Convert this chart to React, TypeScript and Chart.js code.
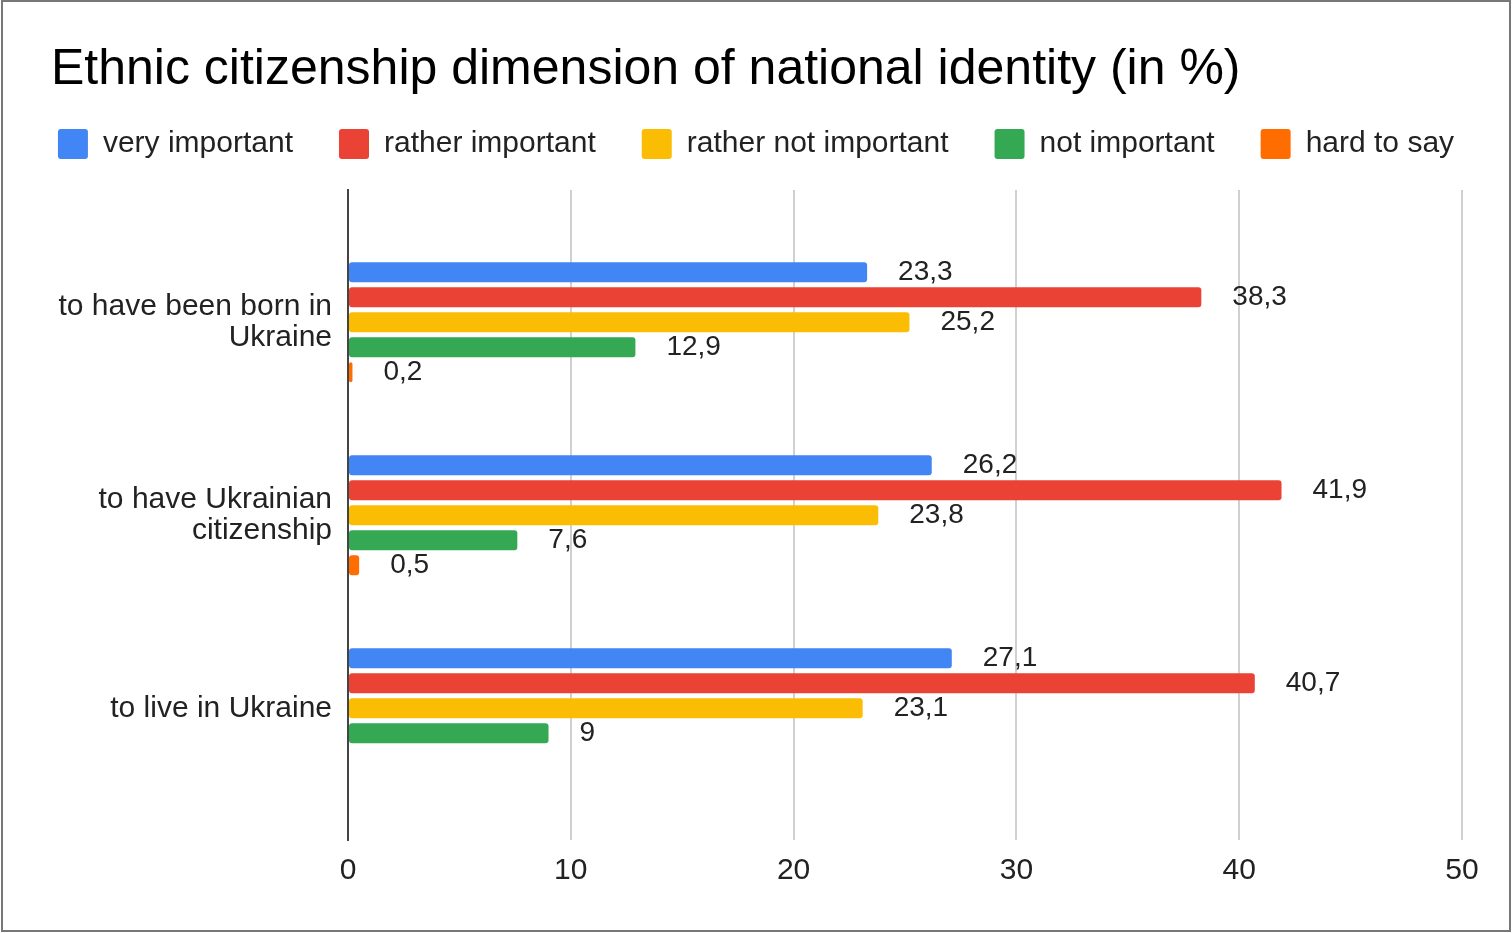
import React, { useEffect, useRef } from "react";
import { Chart, registerables } from "chart.js";

Chart.register(...registerables);

const TITLE = "Ethnic citizenship dimension of national identity (in %)";
const categories: (string | string[])[] = [
  ["to have been born in", "Ukraine"],
  ["to have Ukrainian", "citizenship"],
  "to live in Ukraine",
];
const seriesNames = ["very important", "rather important", "rather not important", "not important", "hard to say"];
const seriesColors = ["#4285F4", "#EA4335", "#FBBC04", "#34A853", "#FF6D01"];
const veryImportant = [23.3, 26.2, 27.1];
const ratherImportant = [38.3, 41.9, 40.7];
const ratherNotImportant = [25.2, 23.8, 23.1];
const notImportant = [12.9, 7.6, 9];
const hardToSay: (number | null)[] = [0.2, 0.5, null];
const xTicks = [0, 10, 20, 30, 40, 50];

const FONT = "Arial, 'Liberation Sans', sans-serif";

const valueLabels = {
  id: "valueLabels",
  afterDatasetsDraw(chart: any) {
    const ctx = chart.ctx;
    ctx.save();
    ctx.font = `28px ${FONT}`;
    ctx.fillStyle = "#222";
    ctx.textAlign = "left";
    ctx.textBaseline = "middle";
    chart.data.datasets.forEach((ds: any, i: number) => {
      const meta = chart.getDatasetMeta(i);
      if (meta.hidden) return;
      meta.data.forEach((el: any, j: number) => {
        const v = ds.data[j]?.x;
        if (v === null || v === undefined) return;
        ctx.fillText(String(v).replace(".", ","), el.x + 31, el.y);
      });
    });
    ctx.restore();
  },
};

// indent the title like the reference while the legend keeps the full width
const titleInset = {
  id: "titleInset",
  afterLayout(chart: any) {
    const t = chart.titleBlock;
    if (t) t.left = 51;
  },
};

export default function App() {
  const ref = useRef<HTMLCanvasElement | null>(null);
  useEffect(() => {
    document.body.style.margin = "0";
    const series = [veryImportant, ratherImportant, ratherNotImportant, notImportant, hardToSay];
    const chart = new Chart(ref.current!, {
      type: "bar",
      data: {
        datasets: series.map((vals, i) => ({
          label: seriesNames[i],
          data: vals.map((v, k) => ({ x: v, y: k })) as any,
          backgroundColor: seriesColors[i],
          borderWidth: 0,
          borderRadius: 3,
          borderSkipped: false,
          categoryPercentage: 125 / 193,
          barPercentage: 0.8,
          yAxisID: "y",
          xAxisID: "x",
        })),
      },
      options: {
        indexAxis: "y",
        animation: false,
        responsive: true,
        maintainAspectRatio: false,
        layout: { padding: { left: 0, right: 0, top: 0, bottom: 31 } },
        plugins: {
          title: {
            display: true,
            text: TITLE,
            align: "start",
            color: "#000",
            font: { family: FONT, size: 50, weight: "normal", lineHeight: 0.52 },
            padding: { top: 57, bottom: 0 },
          },
          legend: {
            display: true,
            position: "top",
            align: "center",
            labels: {
              boxWidth: 30,
              boxHeight: 30,
              padding: 46,
              color: "#222",
              useBorderRadius: true,
              borderRadius: 3,
              font: { family: FONT, size: 30 },
            },
          },
          tooltip: { enabled: false },
        },
        scales: {
          x: {
            type: "linear",
            position: "bottom",
            min: 0,
            max: 50,
            offset: false,
            afterBuildTicks: (axis: any) => {
              axis.ticks = xTicks.map((v) => ({ value: v }));
            },
            grid: {
              color: (c: any) => (c.tick && c.tick.value === 0 ? "rgba(0,0,0,0)" : "#d0d0d0"),
              lineWidth: 2,
              drawTicks: false,
              offset: false,
            },
            border: { display: false },
            ticks: { color: "#222", padding: 13, font: { family: FONT, size: 30 } },
          },
          xTop: {
            type: "linear",
            axis: "x",
            position: "top",
            display: true,
            grid: { display: false, drawTicks: false },
            border: { display: false },
            ticks: { display: false },
            afterFit: (s: any) => {
              s.height = 21;
            },
          },
          y: {
            type: "linear",
            reverse: true,
            min: -0.6855,
            max: 2.6824,
            bounds: "data",
            offset: false,
            z: 1,
            afterBuildTicks: (axis: any) => {
              axis.ticks = categories.map((_, i) => ({ value: i }));
            },
            afterFit: (s: any) => {
              s.width = 348;
            },
            grid: { display: false, drawTicks: false, offset: false },
            border: { display: true, color: "#444", width: 2 },
            ticks: {
              color: "#222",
              padding: 16,
              font: { family: FONT, size: 30, lineHeight: 1.05 },
              callback: (v: any) => categories[v as number] as any,
            },
          },
          yRight: {
            type: "linear",
            axis: "y",
            position: "right",
            display: true,
            grid: { display: false, drawTicks: false },
            border: { display: false },
            ticks: { display: false },
            afterFit: (s: any) => {
              s.width = 50;
            },
          },
        },
      },
      plugins: [valueLabels, titleInset],
    });
    return () => chart.destroy();
  }, []);
  return (
    <div style={{ position: "absolute", left: 0, top: 0, width: 1512, height: 933, background: "#fff" }}>
      <canvas ref={ref} />
      <div
        style={{
          position: "absolute",
          left: 1,
          top: 0,
          width: 1510,
          height: 932,
          boxSizing: "border-box",
          border: "2px solid #777",
          pointerEvents: "none",
        }}
      />
    </div>
  );
}
